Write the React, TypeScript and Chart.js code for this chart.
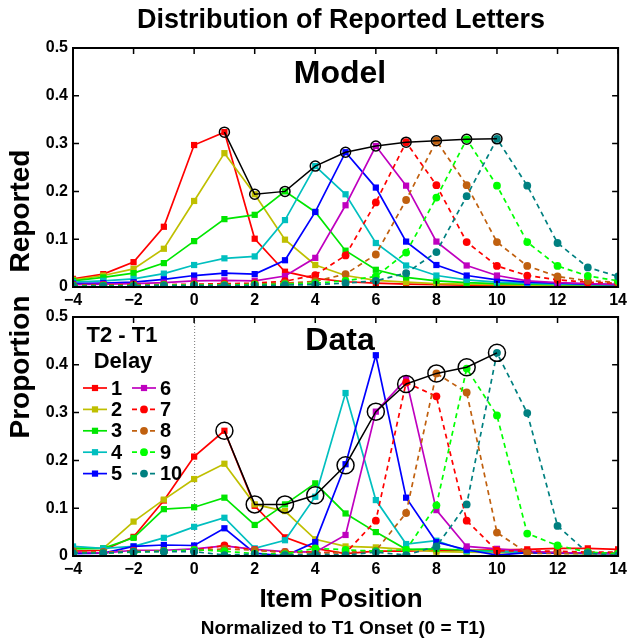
import React, { useEffect, useRef } from "react";
import { Chart, registerables } from "chart.js";

Chart.register(...registerables);

const FONT = "'Liberation Sans', Arial, Helvetica, sans-serif";

// ---------- data ----------
const positions = [-4, -3, -2, -1, 0, 1, 2, 3, 4, 5, 6, 7, 8, 9, 10, 11, 12, 13, 14];
const delayLabels = ["1", "2", "3", "4", "5", "6", "7", "8", "9", "10"];
const peakPositions = [1, 2, 3, 4, 5, 6, 7, 8, 9, 10];
const xTickValues = [-4, -2, 0, 2, 4, 6, 8, 10, 12, 14];
const yTickValues = [0, 0.1, 0.2, 0.3, 0.4, 0.5];

const model1 = [0.017, 0.027, 0.052, 0.126, 0.297, 0.324, 0.101, 0.032, 0.018, 0.011, 0.008, 0.006, 0.005, 0.004, 0.004, 0.003, 0.003, 0.003, 0.003];
const model2 = [0.015, 0.024, 0.038, 0.080, 0.180, 0.280, 0.194, 0.099, 0.046, 0.024, 0.014, 0.010, 0.007, 0.006, 0.005, 0.004, 0.004, 0.004, 0.003];
const model3 = [0.013, 0.020, 0.029, 0.050, 0.096, 0.142, 0.151, 0.200, 0.157, 0.076, 0.036, 0.020, 0.013, 0.009, 0.007, 0.006, 0.005, 0.005, 0.004];
const model4 = [0.010, 0.013, 0.017, 0.028, 0.046, 0.060, 0.064, 0.140, 0.253, 0.194, 0.092, 0.045, 0.024, 0.015, 0.010, 0.008, 0.006, 0.005, 0.005];
const model5 = [0.007, 0.008, 0.010, 0.016, 0.024, 0.029, 0.027, 0.056, 0.157, 0.282, 0.208, 0.095, 0.046, 0.024, 0.015, 0.010, 0.008, 0.006, 0.005];
const model6 = [0.005, 0.006, 0.007, 0.009, 0.013, 0.014, 0.013, 0.023, 0.061, 0.171, 0.295, 0.212, 0.095, 0.045, 0.024, 0.013, 0.009, 0.007, 0.005];
const model7 = [0.004, 0.004, 0.005, 0.005, 0.006, 0.007, 0.008, 0.012, 0.025, 0.066, 0.177, 0.303, 0.213, 0.094, 0.044, 0.024, 0.015, 0.010, 0.008];
const model8 = [0.003, 0.003, 0.004, 0.004, 0.005, 0.005, 0.006, 0.008, 0.012, 0.027, 0.068, 0.182, 0.306, 0.213, 0.094, 0.044, 0.022, 0.013, 0.010];
const model9 = [0.003, 0.003, 0.003, 0.004, 0.004, 0.004, 0.005, 0.006, 0.008, 0.013, 0.022, 0.072, 0.187, 0.309, 0.212, 0.094, 0.044, 0.023, 0.013];
const model10 = [0.002, 0.002, 0.002, 0.003, 0.003, 0.003, 0.003, 0.004, 0.005, 0.008, 0.013, 0.029, 0.073, 0.190, 0.310, 0.212, 0.092, 0.041, 0.022];
const modelPeaks = [0.324, 0.194, 0.200, 0.253, 0.282, 0.295, 0.303, 0.306, 0.309, 0.310];

const data1 = [0.010, 0.012, 0.040, 0.116, 0.208, 0.262, 0.105, 0.039, 0.016, 0.005, 0.010, 0.010, 0.012, 0.012, 0.013, 0.014, 0.016, 0.016, 0.014];
const data2 = [0.018, 0.016, 0.072, 0.118, 0.161, 0.193, 0.108, 0.094, 0.035, 0.020, 0.018, 0.014, 0.009, 0.008, 0.007, 0.006, 0.006, 0.005, 0.005];
const data3 = [0.015, 0.016, 0.038, 0.098, 0.102, 0.122, 0.065, 0.108, 0.152, 0.089, 0.050, 0.014, 0.015, 0.012, 0.010, 0.008, 0.007, 0.006, 0.006];
const data4 = [0.020, 0.016, 0.020, 0.038, 0.061, 0.080, 0.016, 0.033, 0.124, 0.341, 0.117, 0.025, 0.032, 0.010, 0.009, 0.008, 0.006, 0.005, 0.005];
const data5 = [0.005, 0.006, 0.020, 0.023, 0.022, 0.058, 0.006, 0.000, 0.029, 0.192, 0.420, 0.122, 0.029, 0.013, 0.002, 0.007, 0.006, 0.006, 0.005];
const data6 = [0.008, 0.006, 0.012, 0.012, 0.015, 0.021, 0.014, 0.009, 0.008, 0.044, 0.302, 0.370, 0.096, 0.020, 0.015, 0.010, 0.007, 0.006, 0.005];
const data7 = [0.008, 0.008, 0.010, 0.010, 0.012, 0.022, 0.012, 0.008, 0.008, 0.006, 0.074, 0.363, 0.334, 0.074, 0.011, 0.010, 0.010, 0.008, 0.008];
const data8 = [0.010, 0.008, 0.010, 0.010, 0.011, 0.015, 0.012, 0.008, 0.006, 0.008, 0.011, 0.090, 0.382, 0.342, 0.049, 0.006, 0.005, 0.005, 0.005];
const data9 = [0.006, 0.006, 0.008, 0.010, 0.013, 0.010, 0.005, 0.004, 0.016, 0.013, 0.010, 0.013, 0.106, 0.392, 0.294, 0.047, 0.022, 0.008, 0.005];
const data10 = [0.006, 0.006, 0.009, 0.009, 0.009, 0.002, 0.004, 0.002, 0.004, 0.002, 0.008, 0.002, 0.020, 0.108, 0.425, 0.299, 0.063, 0.006, 0.001];
const dataPeaks = [0.262, 0.108, 0.108, 0.127, 0.190, 0.302, 0.360, 0.382, 0.395, 0.425];

// ---------- styles ----------
const seriesColors = ["#ff0000", "#bfbf00", "#00e600", "#00bfbf", "#0000ff", "#bf00bf", "#ff0000", "#c0600f", "#00ff00", "#008080"];
const seriesDashed = [false, false, false, false, false, false, true, true, true, true];

const W = 631;
const H = 638;
const minus = (v: number) => (v < 0 ? "\u2212" + Math.abs(v) : String(v));

function drawMarker(ctx: CanvasRenderingContext2D, x: number, y: number, i: number) {
  ctx.fillStyle = seriesColors[i];
  if (seriesDashed[i]) {
    ctx.beginPath();
    ctx.arc(x, y, 3.9, 0, Math.PI * 2);
    ctx.fill();
  } else {
    ctx.fillRect(x - 3.1, y - 3.1, 6.2, 6.2);
  }
}

function buildDatasets(series: number[][], peaks: number[], peakRadius: number) {
  const ds: any[] = series.map((vals, i) => ({
    label: delayLabels[i],
    data: positions.map((x, j) => ({ x, y: vals[j] })),
    borderColor: seriesColors[i],
    backgroundColor: seriesColors[i],
    pointBackgroundColor: seriesColors[i],
    pointBorderColor: seriesColors[i],
    pointBorderWidth: 0,
    borderWidth: 1.7,
    borderDash: seriesDashed[i] ? [5, 4] : [],
    pointStyle: seriesDashed[i] ? "circle" : "rect",
    pointRadius: seriesDashed[i] ? 3.9 : 4.4,
    tension: 0,
    fill: false,
    order: 20 - i,
  }));
  ds.push({
    label: "peak",
    data: peakPositions.map((x, j) => ({ x, y: peaks[j] })),
    borderColor: "#000",
    backgroundColor: "rgba(0,0,0,0)",
    borderWidth: 1.5,
    pointStyle: "circle",
    pointRadius: peakRadius,
    pointBackgroundColor: "rgba(0,0,0,0)",
    pointBorderColor: "#000",
    pointBorderWidth: 1.5,
    tension: 0,
    fill: false,
    order: 0,
  });
  return ds;
}

function makeOptions(padTop: number, padBottom: number): any {
  return {
    responsive: false,
    animation: false,
    events: [],
    layout: { padding: { left: 0, right: 9, top: padTop, bottom: padBottom } },
    plugins: {
      legend: { display: false },
      tooltip: { enabled: false },
      title: { display: false },
    },
    scales: {
      x: {
        type: "linear",
        min: -4,
        max: 14,
        grid: { display: false, drawTicks: false },
        border: { display: false },
        afterBuildTicks: (s: any) => {
          s.ticks = xTickValues.map((v) => ({ value: v }));
        },
        ticks: {
          autoSkip: false,
          maxRotation: 0,
          padding: 4,
          color: "#000",
          font: { family: FONT, size: 16, weight: "bold" },
          callback: (v: any) => minus(Number(v)),
        },
        afterFit: (s: any) => {
          s.height = 22;
        },
      },
      y: {
        type: "linear",
        min: 0,
        max: 0.5,
        grid: { display: false, drawTicks: false },
        border: { display: false },
        afterBuildTicks: (s: any) => {
          s.ticks = yTickValues.map((v) => ({ value: v }));
        },
        ticks: {
          padding: 5,
          color: "#000",
          font: { family: FONT, size: 16, weight: "bold" },
          callback: (v: any) => (Number(v) === 0 ? "0" : Number(v).toFixed(1)),
        },
        afterFit: (s: any) => {
          s.width = 73;
        },
      },
    },
  };
}

const framePlugin = {
  id: "frame",
  afterDatasetsDraw(chart: any) {
    const { ctx, chartArea: a, scales } = chart;
    ctx.save();
    ctx.strokeStyle = "#000";
    ctx.lineWidth = 2;
    ctx.setLineDash([]);
    ctx.strokeRect(a.left, a.top, a.right - a.left, a.bottom - a.top);
    ctx.lineWidth = 1.5;
    ctx.beginPath();
    const tl = 6;
    xTickValues.forEach((v) => {
      const px = scales.x.getPixelForValue(v);
      ctx.moveTo(px, a.bottom);
      ctx.lineTo(px, a.bottom - tl);
      ctx.moveTo(px, a.top);
      ctx.lineTo(px, a.top + tl);
    });
    yTickValues.forEach((v) => {
      const py = scales.y.getPixelForValue(v);
      ctx.moveTo(a.left, py);
      ctx.lineTo(a.left + tl, py);
      ctx.moveTo(a.right, py);
      ctx.lineTo(a.right - tl, py);
    });
    ctx.stroke();
    ctx.restore();
  },
};

const topTextPlugin = {
  id: "topText",
  afterDraw(chart: any) {
    const { ctx } = chart;
    ctx.save();
    ctx.fillStyle = "#000";
    ctx.textAlign = "center";
    ctx.textBaseline = "alphabetic";
    ctx.font = `bold 27px ${FONT}`;
    ctx.fillText("Distribution of Reported Letters", 341, 28);
    ctx.font = `bold 32px ${FONT}`;
    ctx.fillText("Model", 340, 83);
    ctx.restore();
  },
};

const bottomTextPlugin = {
  id: "bottomText",
  beforeDatasetsDraw(chart: any) {
    const { ctx, chartArea: a, scales } = chart;
    const px = scales.x.getPixelForValue(0);
    ctx.save();
    ctx.strokeStyle = "#777";
    ctx.lineWidth = 1;
    ctx.setLineDash([1, 2]);
    ctx.beginPath();
    ctx.moveTo(px + 0.5, a.top);
    ctx.lineTo(px + 0.5, a.bottom);
    ctx.stroke();
    ctx.restore();
  },
  afterDraw(chart: any) {
    const { ctx } = chart;
    ctx.save();
    ctx.fillStyle = "#000";
    ctx.textAlign = "center";
    ctx.textBaseline = "alphabetic";
    ctx.font = `bold 32px ${FONT}`;
    ctx.fillText("Data", 340, 350);
    ctx.font = `bold 22px ${FONT}`;
    ctx.fillText("T2 - T1", 122, 342);
    ctx.fillText("Delay", 123, 368);
    ctx.font = `bold 26px ${FONT}`;
    ctx.fillText("Item Position", 341, 607);
    ctx.font = `bold 19px ${FONT}`;
    ctx.fillText("Normalized to T1 Onset (0 = T1)", 343, 634);

    // legend
    ctx.font = `bold 20px ${FONT}`;
    ctx.textAlign = "left";
    ctx.textBaseline = "middle";
    for (let i = 0; i < 10; i++) {
      const col = i < 5 ? 0 : 1;
      const row = i % 5;
      const y = 388 + row * 21.4;
      const x0 = col === 0 ? 83 : 132;
      const x1 = x0 + 24;
      ctx.strokeStyle = seriesColors[i];
      ctx.lineWidth = 1.7;
      ctx.setLineDash(seriesDashed[i] ? [5, 4] : []);
      ctx.beginPath();
      ctx.moveTo(x0, y);
      ctx.lineTo(x1, y);
      ctx.stroke();
      ctx.setLineDash([]);
      drawMarker(ctx, (x0 + x1) / 2, y, i);
      ctx.fillStyle = "#000";
      ctx.fillText(delayLabels[i], x1 + 4, y + 1);
    }

    // y-axis title
    ctx.font = `bold 28px ${FONT}`;
    ctx.textAlign = "center";
    ctx.textBaseline = "alphabetic";
    ctx.fillStyle = "#000";
    ctx.save();
    ctx.translate(29, 367);
    ctx.rotate(-Math.PI / 2);
    ctx.fillText("Proportion", 0, 0);
    ctx.restore();
    ctx.save();
    ctx.translate(29, 211);
    ctx.rotate(-Math.PI / 2);
    ctx.fillText("Reported", 0, 0);
    ctx.restore();
    ctx.restore();
  },
};

export default function App() {
  const topRef = useRef<HTMLCanvasElement>(null);
  const bottomRef = useRef<HTMLCanvasElement>(null);

  useEffect(() => {
    const modelSeries = [model1, model2, model3, model4, model5, model6, model7, model8, model9, model10];
    const dataSeries = [data1, data2, data3, data4, data5, data6, data7, data8, data9, data10];

    const top = new Chart(topRef.current as HTMLCanvasElement, {
      type: "line",
      data: { datasets: buildDatasets(modelSeries, modelPeaks, 5) },
      options: makeOptions(48, H - 287 - 22),
      plugins: [framePlugin, topTextPlugin],
    } as any);

    const bottom = new Chart(bottomRef.current as HTMLCanvasElement, {
      type: "line",
      data: { datasets: buildDatasets(dataSeries, dataPeaks, 8.5) },
      options: makeOptions(317, H - 556 - 22),
      plugins: [framePlugin, bottomTextPlugin],
    } as any);

    return () => {
      top.destroy();
      bottom.destroy();
    };
  }, []);

  const cs: React.CSSProperties = { position: "absolute", left: 0, top: 0, width: W, height: H };
  return (
    <div style={{ position: "absolute", left: 0, top: 0, width: W, height: H, background: "#fff" }}>
      <canvas ref={bottomRef} width={W} height={H} style={cs} />
      <canvas ref={topRef} width={W} height={H} style={cs} />
    </div>
  );
}
